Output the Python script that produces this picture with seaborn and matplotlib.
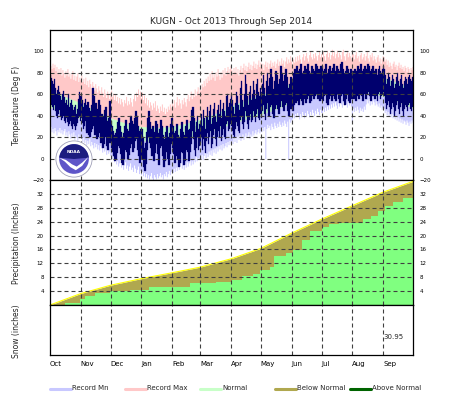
import numpy as np
import matplotlib
matplotlib.use('Agg')
import matplotlib.pyplot as plt
from matplotlib.lines import Line2D
from matplotlib.patches import Circle, Wedge, Polygon
import seaborn as sns

sns.set_style("white")
plt.rcParams['font.family'] = ['DejaVu Sans']

# ---- data: KUGN, Oct 1 2013 - Sep 30 2014 (day 0 = Oct 1) ----
month_names = ['Oct', 'Nov', 'Dec', 'Jan', 'Feb', 'Mar', 'Apr', 'May', 'Jun', 'Jul', 'Aug', 'Sep']
month_days = [31, 30, 31, 31, 28, 31, 30, 31, 30, 31, 31, 30]

# daily record max temperature (deg F)
rec_max = [
    87, 84, 89, 85, 88, 82, 86, 80, 84, 79, 85, 78, 83, 80, 76, 82, 78, 84, 77, 80, 75, 79, 82, 74, 78, 73, 77, 80, 72, 76, 74,
    78, 72, 75, 70, 76, 69, 73, 67, 74, 70, 66, 72, 68, 64, 70, 66, 62, 68, 64, 60, 67, 62, 58, 65, 61, 57, 63, 60, 56, 62,
    64, 58, 61, 55, 60, 54, 58, 52, 57, 51, 56, 53, 49, 55, 52, 58, 50, 54, 51, 57, 53, 49, 56, 60, 54, 62, 58, 65, 60, 63, 57,
    62, 55, 59, 52, 57, 50, 55, 48, 53, 50, 46, 52, 48, 54, 45, 50, 47, 43, 49, 45, 51, 44, 48, 42, 47, 44, 49, 46, 51, 48, 54,
    50, 55, 48, 53, 58, 50, 56, 52, 47, 55, 51, 57, 53, 49, 56, 60, 54, 58, 63, 56, 61, 58, 65, 59, 63, 67, 61, 66,
    64, 70, 67, 73, 68, 75, 71, 77, 73, 80, 74, 82, 76, 79, 73, 81, 77, 84, 78, 74, 81, 76, 83, 79, 85, 78, 82, 86, 80, 84, 87,
    83, 79, 85, 81, 86, 80, 84, 78, 83, 87, 81, 85, 89, 83, 87, 82, 86, 90, 84, 88, 83, 87, 91, 85, 89, 84, 88, 92, 86, 90,
    85, 89, 83, 88, 91, 86, 90, 84, 89, 92, 86, 90, 87, 91, 85, 89, 93, 87, 91, 88, 94, 89, 92, 86, 91, 95, 89, 93, 90, 96, 91,
    88, 93, 90, 95, 91, 96, 92, 97, 93, 89, 95, 98, 92, 96, 99, 94, 91, 97, 100, 95, 93, 98, 94, 99, 96, 92, 97, 100, 95, 98,
    95, 100, 96, 92, 98, 101, 95, 99, 93, 97, 102, 96, 100, 94, 98, 101, 95, 99, 97, 93, 100, 102, 96, 92, 98, 101, 95, 99, 96, 94, 100,
    98, 93, 97, 100, 94, 96, 91, 97, 99, 93, 95, 98, 92, 96, 100, 94, 91, 97, 95, 99, 92, 96, 93, 90, 95, 97, 91, 94, 89, 93, 96,
    95, 91, 93, 88, 92, 86, 90, 87, 84, 89, 91, 86, 88, 83, 87, 90, 85, 88, 84, 86, 82, 87, 85, 81, 86, 84, 80, 85, 83, 86,
]

# daily record min temperature (deg F)
rec_min = [
    30, 25, 28, 24, 29, 26, 22, 27, 25, 29, 24, 27, 23, 26, 28, 22, 25, 21, 26, 23, 19, 24, 21, 25, 18, 22, 20, 17, 23, 19, 21,
    19, 16, 20, 15, 18, 13, 17, 14, 19, 12, 16, 13, 10, 15, 11, 14, 9, 13, 8, 12, 10, 6, 11, 7, 9, 4, 8, 5, 7, 3,
    4, 0, 2, -3, 1, -5, -2, -7, -4, -1, -8, -5, -10, -6, -3, -9, -6, -11, -7, -4, -10, -8, -12, -6, -9, -13, -10, -7, -14, -11, -15,
    -12, -16, -13, -17, -14, -18, -15, -19, -16, -13, -18, -20, -15, -17, -19, -14, -18, -16, -13, -17, -15, -19, -14, -16, -12, -17, -14, -11, -15, -12, -10,
    -13, -9, -12, -8, -11, -6, -10, -7, -4, -9, -6, -10, -5, -8, -3, -7, -4, -1, -6, -2, -5, 0, -3, 2, -2, 1, -1, 3,
    0, 4, -1, 3, 6, 1, 5, 2, 7, 4, 8, 3, 9, 6, 10, 5, 11, 7, 12, 9, 13, 8, 14, 10, 12, 15, 11, 16, 13, 17, 14,
    17, 14, 19, 16, 20, 15, 21, 18, 22, 17, 19, 23, 18, 21, 24, 20, 22, 25, 19, 23, 21, 26, 22, 24, 27, 23, 25, 28, 24, 26,
    25, 29, 26, 30, 0, 28, 32, 29, 31, 27, 33, 30, 28, 34, 31, 29, 33, 30, 35, 32, 30, 34, 31, 36, 33, 30, 35, 0, 37, 34, 36,
    37, 41, 38, 42, 39, 43, 40, 37, 42, 39, 44, 41, 38, 43, 40, 45, 42, 39, 44, 41, 46, 43, 40, 45, 42, 47, 44, 41, 46, 43,
    43, 47, 44, 48, 45, 49, 46, 50, 47, 51, 48, 52, 49, 53, 50, 47, 52, 49, 54, 51, 48, 53, 50, 54, 51, 48, 53, 50, 52, 49, 34,
    47, 44, 48, 45, 49, 46, 43, 48, 45, 47, 44, 49, 46, 51, 55, 52, 56, 50, 54, 51, 55, 53, 50, 54, 51, 49, 52, 48, 50, 46, 48,
    47, 43, 45, 41, 44, 40, 43, 39, 42, 38, 41, 37, 40, 36, 39, 35, 38, 34, 37, 33, 36, 35, 32, 36, 34, 31, 35, 33, 36, 34,
]

# observed daily high (deg F)
obs_hi = [
    78, 75, 72, 70, 74, 66, 60, 64, 68, 62, 58, 55, 60, 63, 57, 52, 55, 50, 60, 48, 52, 55, 50, 45, 48, 50, 42, 46, 56, 62, 58,
    60, 55, 48, 52, 56, 50, 45, 53, 47, 40, 44, 50, 66, 58, 48, 52, 42, 46, 55, 50, 38, 42, 36, 40, 45, 48, 35, 30, 38, 54,
    35, 30, 26, 22, 20, 24, 28, 34, 38, 30, 25, 20, 18, 24, 30, 36, 28, 22, 26, 33, 40, 35, 28, 32, 38, 44, 40, 30, 26, 22, 28,
    28, 20, 10, 5, 15, 25, 38, 44, 34, 28, 22, 30, 18, 25, 35, 32, 24, 15, 28, 36, 30, 22, 12, 18, 25, 30, 20, 14, 24, 32, 38,
    30, 24, 18, 26, 32, 22, 15, 20, 28, 34, 25, 18, 22, 30, 36, 27, 20, 28, 35, 45, 48, 38, 30, 25, 34, 40, 28, 32,
    35, 42, 30, 45, 38, 28, 40, 48, 36, 44, 50, 32, 38, 46, 52, 40, 34, 45, 50, 42, 55, 38, 46, 52, 44, 40, 58, 60, 48, 52, 56,
    60, 55, 48, 42, 52, 62, 58, 50, 45, 66, 72, 55, 48, 60, 78, 70, 58, 50, 62, 68, 55, 60, 72, 64, 56, 70, 74, 62, 58, 66,
    62, 70, 78, 66, 58, 72, 80, 68, 62, 75, 84, 76, 65, 60, 72, 82, 78, 70, 64, 74, 86, 80, 72, 68, 78, 84, 76, 66, 60, 70, 76,
    72, 66, 80, 84, 78, 86, 82, 76, 84, 88, 80, 74, 82, 86, 78, 84, 88, 82, 76, 80, 86, 84, 78, 82, 88, 86, 80, 84, 78, 86,
    86, 82, 78, 84, 88, 80, 76, 84, 86, 82, 78, 85, 88, 82, 80, 86, 84, 78, 82, 88, 90, 84, 80, 76, 82, 86, 84, 78, 80, 84, 82,
    82, 80, 84, 78, 82, 86, 80, 84, 88, 82, 78, 84, 86, 80, 84, 88, 86, 82, 78, 84, 86, 82, 80, 84, 82, 78, 84, 86, 82, 80, 84,
    86, 84, 78, 70, 74, 80, 76, 68, 72, 78, 74, 66, 70, 76, 80, 72, 68, 74, 78, 70, 66, 72, 76, 74, 70, 76, 78, 74, 72, 76,
]

# observed daily low (deg F)
obs_lo = [
    52, 50, 48, 45, 50, 44, 40, 38, 42, 45, 40, 36, 38, 40, 35, 33, 38, 34, 30, 32, 35, 30, 28, 32, 30, 27, 30, 33, 38, 40, 35,
    38, 33, 28, 30, 35, 26, 24, 30, 22, 20, 25, 28, 35, 30, 22, 26, 18, 20, 28, 24, 15, 18, 10, 14, 20, 22, 12, 8, 15, 28,
    15, 10, 6, 2, -2, 0, 5, 12, 18, 10, 4, -4, -6, 0, 8, 15, 6, 0, 3, 10, 20, 14, 6, 10, 16, 22, 18, 8, 2, -4, 0,
    10, 0, -8, -12, -5, 8, 20, 25, 15, 10, 2, 12, -2, 5, 18, 14, 4, -6, 10, 18, 12, 2, -8, -2, 6, 12, 0, -6, 4, 14, 20,
    10, 4, -4, 2, 12, 0, -8, -4, 6, 14, 5, -6, -2, 8, 16, 6, -2, 6, 14, 26, 30, 18, 8, 2, 10, 20, 8, 12,
    15, 20, 8, 18, 12, 5, 16, 24, 14, 20, 26, 10, 14, 22, 28, 18, 12, 20, 26, 20, 30, 16, 22, 28, 20, 18, 32, 35, 26, 28, 32,
    30, 26, 22, 20, 28, 34, 30, 26, 24, 36, 40, 32, 28, 34, 44, 40, 32, 28, 36, 42, 34, 36, 44, 40, 34, 42, 46, 38, 36, 42,
    38, 44, 50, 42, 36, 46, 52, 44, 40, 48, 56, 50, 42, 38, 46, 54, 50, 46, 42, 48, 58, 54, 48, 44, 50, 56, 52, 44, 40, 46, 50,
    46, 44, 50, 54, 52, 56, 54, 50, 56, 60, 54, 50, 56, 58, 52, 56, 60, 58, 52, 54, 58, 60, 56, 58, 62, 60, 56, 58, 54, 60,
    56, 54, 58, 62, 60, 52, 50, 56, 60, 58, 54, 58, 62, 56, 54, 60, 62, 56, 52, 58, 64, 60, 54, 50, 56, 62, 60, 54, 52, 58, 56,
    58, 56, 60, 54, 58, 62, 56, 60, 64, 58, 54, 60, 62, 56, 60, 64, 62, 58, 54, 58, 62, 58, 56, 60, 58, 54, 60, 62, 56, 58, 60,
    62, 58, 52, 46, 50, 54, 48, 42, 46, 52, 48, 40, 44, 50, 54, 46, 42, 48, 52, 44, 40, 46, 50, 48, 44, 50, 52, 46, 44, 48,
]

# normal high / low, 1st and 16th of each month (day index)
norm_day = [0, 15, 31, 46, 61, 76, 92, 107, 123, 137, 151, 166, 182, 197, 212, 227, 243, 258, 273, 288, 304, 319, 335, 350, 365]
norm_hi = [64, 58, 52, 45, 38, 33, 30, 29, 30, 33, 37, 42, 49, 55, 60, 65, 71, 75, 79, 81, 81, 79, 76, 71, 65]
norm_lo = [48, 42, 37, 31, 25, 20, 17, 15, 16, 18, 22, 27, 32, 37, 41, 46, 52, 57, 61, 63, 63, 62, 58, 53, 47]

# accumulated precipitation (inches): day it changed, new total
precip_day = [0, 15, 30, 35, 45, 60, 80, 100, 141, 167, 183, 193, 204, 211, 221, 225, 231, 237, 244,
              253, 261, 273, 281, 291, 315, 323, 330, 337, 345, 355]
precip_cum = [0.0, 0.6, 1.8, 2.6, 3.6, 3.9, 4.3, 5.2, 6.4, 6.7, 7.3, 8.4, 8.8, 10.1, 10.9, 14.0, 14.1, 14.9, 15.9,
              18.8, 21.2, 22.6, 23.2, 23.6, 24.8, 25.5, 27.1, 28.4, 29.8, 30.95]

# normal accumulated precipitation at month starts
pnorm_day = [0, 31, 61, 92, 123, 151, 182, 212, 243, 273, 304, 335, 365]
pnorm_cum = [0.0, 3.3, 5.7, 7.6, 9.3, 10.9, 13.3, 16.3, 20.7, 24.7, 28.6, 32.5, 35.6]

legend_labels = ['Record Mn', 'Record Max', 'Normal', 'Below Normal', 'Above Normal']

# ---- colours ----
PINK = '#ffc8c8'
LAV = '#c8c8ff'
NORM = '#c8ffc8'
NAVY = '#00006e'
PGREEN = '#80ff80'
OLIVE = '#b0a84f'
DKGREEN = '#006400'
GRID = '#404040'
legend_colors = [LAV, PINK, NORM, OLIVE, DKGREEN]

rec_max = np.array(rec_max)
rec_min = np.array(rec_min)
obs_hi = np.array(obs_hi)
obs_lo = np.array(obs_lo)
days = np.arange(len(obs_hi))
edges = np.arange(len(obs_hi) + 1)
month_starts = np.concatenate([[0], np.cumsum(month_days)[:-1]])


def ext(v):
    return np.append(v, v[-1])


W_PX, H_PX = 463, 395
fig = plt.figure(figsize=(W_PX / 100, H_PX / 100), dpi=100)


def box(top, bot, left=50, right=413):
    return [left / W_PX, 1 - bot / H_PX, (right - left) / W_PX, (bot - top) / H_PX]


ax_t = fig.add_axes(box(30, 180))
ax_p = fig.add_axes(box(180, 305))
ax_s = fig.add_axes(box(305, 355))

dash = (0, (3.6, 2.7))

# Temperature panel
ax_t.fill_between(edges, -20, ext(rec_max), step='post', color=PINK, lw=0, zorder=1)
ax_t.fill_between(norm_day, -20, norm_lo, color=LAV, lw=0, zorder=2)
ax_t.fill_between(edges, -20, ext(rec_min), step='post', color='white', lw=0, zorder=3)
ax_t.fill_between(norm_day, norm_lo, norm_hi, color=NORM, lw=0, zorder=4)
ax_t.bar(days + 0.5, obs_hi - obs_lo, bottom=obs_lo, width=1.6, color=NAVY,
         edgecolor=NAVY, lw=0.2, zorder=5)
for v in range(0, 101, 20):
    ax_t.axhline(v, color=GRID, lw=0.8, ls=dash, zorder=6)
ax_t.set_ylim(-20, 120)
ax_t.set_yticks([-20, 0, 20, 40, 60, 80, 100])

# Precipitation panel
ax_p.fill_between(pnorm_day, 0, pnorm_cum, color=OLIVE, lw=0, zorder=1)
ax_p.fill_between(precip_day + [365], 0, precip_cum + [precip_cum[-1]], step='post',
                  color=PGREEN, lw=0, zorder=2)
sns.lineplot(x=pnorm_day, y=pnorm_cum, ax=ax_p, color='#ffff00', lw=0.8, zorder=3)
for v in range(4, 33, 4):
    ax_p.axhline(v, color=GRID, lw=0.8, ls=dash, zorder=6)
ax_p.set_ylim(0, 36)
ax_p.set_yticks(range(4, 33, 4))
ax_p.set_ylabel('')

# Snow panel
ax_s.set_ylim(0, 1)
ax_s.set_yticks([])
ax_s.text(0.946, 0.36, f'{precip_cum[-1]:.2f}', transform=ax_s.transAxes,
          fontsize=5, ha='center', va='center')

for ax in (ax_t, ax_p, ax_s):
    ax.set_xlim(0, 365)
    for s in month_starts[1:]:
        ax.axvline(s, color=GRID, lw=0.8, ls=dash, zorder=6)
    for sp in ax.spines.values():
        sp.set_color('black')
        sp.set_linewidth(0.9)
        sp.set_zorder(10)
    ax.tick_params(axis='y', length=0, labelsize=4, pad=4.5, labelcolor='black',
                   labelleft=True, labelright=True)
    ax.set_xticks(month_starts)
    ax.tick_params(axis='x', length=0, labelbottom=False)

ax_s.tick_params(axis='x', labelbottom=True, labelsize=5, pad=4, labelcolor='black')
ax_s.set_xticklabels(month_names)
for lbl in ax_s.get_xticklabels():
    lbl.set_horizontalalignment('left')

# Titles and axis labels
fig.text(231 / W_PX, 1 - 21 / H_PX, 'KUGN - Oct 2013 Through Sep 2014',
         ha='center', va='center', fontsize=6.5)
for txt, yc in [('Temperature (Deg F)', 105), ('Precipitation (Inches)', 243),
                ('Snow (inches)', 331)]:
    fig.text(17 / W_PX, 1 - yc / H_PX, txt, rotation=90, ha='center', va='center',
             fontsize=5.5)

# Legend along the bottom
for i, (lab, col) in enumerate(zip(legend_labels, legend_colors)):
    x0 = 50 + 75 * i
    fig.add_artist(Line2D([x0 / W_PX, (x0 + 21) / W_PX], [1 - 389 / H_PX] * 2,
                          transform=fig.transFigure, color=col, lw=2.2))
    fig.text((x0 + 22) / W_PX, 1 - 388 / H_PX, lab, fontsize=5, va='center', ha='left')

# NOAA logo (simplified)
lax = fig.add_axes([55 / W_PX, 1 - 178 / H_PX, 38 / W_PX, 38 / H_PX])
lax.set_xlim(-1.05, 1.05)
lax.set_ylim(-1.05, 1.05)
lax.set_aspect('equal')
lax.axis('off')
lax.add_patch(Circle((0, 0), 1.0, fc='white', ec='#a0a0b8', lw=0.6))
lax.add_patch(Circle((0, 0), 0.82, fc='#5e55c8', ec='none'))
lax.add_patch(Wedge((0, 0), 0.82, 5, 175, fc='#1c1c80', ec='none'))
lax.add_patch(Polygon([(-0.82, 0.07), (-0.45, -0.05), (-0.1, -0.3), (0.15, -0.42),
                       (0.45, -0.2), (0.8, 0.12), (0.45, -0.38), (0.1, -0.62),
                       (-0.2, -0.45), (-0.5, -0.15)], closed=True, fc='white', ec='none'))
lax.text(0, 0.4, 'NOAA', color='white', fontsize=3.2, fontweight='bold',
         ha='center', va='center')

fig.savefig('out.png', dpi=100)
